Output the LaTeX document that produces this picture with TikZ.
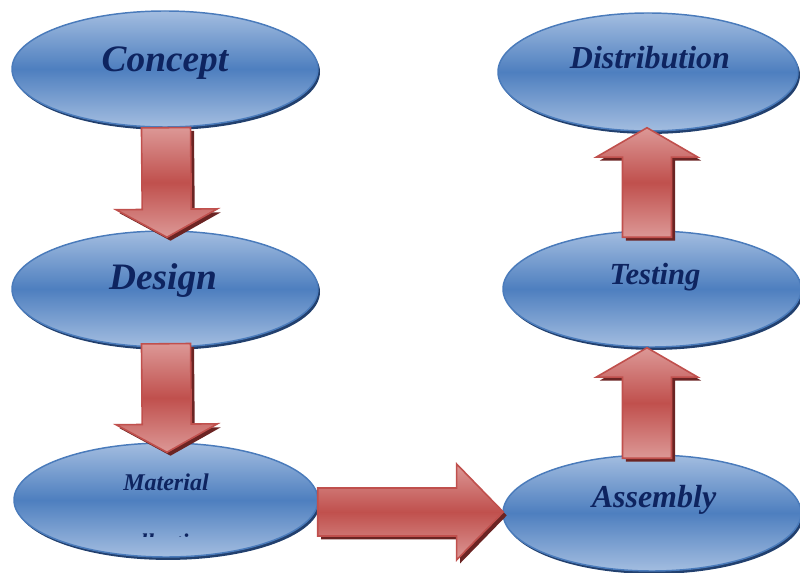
\documentclass[tikz,border=0pt]{standalone}
\usepackage{fontspec}
\setmainfont{Liberation Serif}
\usetikzlibrary{shapes.geometric,shadows,calc}

\definecolor{ellight}{HTML}{A3BDE0}
\definecolor{eldark}{HTML}{4E7FBF}
\definecolor{elborder}{HTML}{4A7BBB}
\definecolor{elshadow}{HTML}{22406E}
\definecolor{arlight}{HTML}{DC9896}
\definecolor{ardark}{HTML}{C0504D}
\definecolor{arshadow}{HTML}{6B2423}
\definecolor{titleblue}{HTML}{0E2460}

\tikzset{
  stage/.style={ellipse, inner sep=0pt, draw=elborder, line width=1.1pt,
    top color=ellight, bottom color=ellight, middle color=eldark,
    drop shadow={shadow xshift=1.5pt, shadow yshift=-2.2pt, fill=elshadow, opacity=1}},
  lbl/.style={anchor=base, inner sep=0pt, text=titleblue,
    font=\bfseries\itshape\fontsize{#1}{#1}\selectfont},
  arrowshadow/.style={fill=arshadow, transform canvas={shift={(2.6pt,-2.6pt)}}},
  arrowbody/.style={draw=ardark, line width=1.2pt, line join=miter,
    top color=arlight, bottom color=arlight, middle color=ardark}
}

% block arrow: from, tip, shaft half width, head half width, head length
\newcommand\flowarrow[5]{%
  \coordinate (fa-h) at ($(#2)!#5!(#1)$);
  \foreach \st in {arrowshadow,arrowbody}
    \path[\st] ($(#1)!#3!90:(#2)$) -- ($(fa-h)!#3!90:(#2)$) -- ($(fa-h)!#4!90:(#2)$)
      -- (#2) -- ($(fa-h)!#4!-90:(#2)$) -- ($(fa-h)!#3!-90:(#2)$)
      -- ($(#1)!#3!-90:(#2)$) -- cycle;
}

\begin{document}
\begin{tikzpicture}[x=0.75pt,y=-0.75pt]
  \useasboundingbox (0,0) rectangle (800,573);

  % the six stages
  \node[stage, minimum width=229.5pt, minimum height=87pt]   (concept)      at (165,69)  {};
  \node[stage, minimum width=229.5pt, minimum height=87pt]   (design)       at (165,289) {};
  \node[stage, minimum width=228pt,   minimum height=85.5pt] (material)     at (166,500) {};
  \node[stage, minimum width=225pt,   minimum height=88.5pt] (distribution) at (648,72)  {};
  \node[stage, minimum width=223.5pt, minimum height=87pt]   (testing)      at (652,289) {};
  \node[stage, minimum width=223.5pt, minimum height=87pt]   (assembly)     at (652,513) {};

  % their texts
  \node[lbl=28] (concept-t)      at (165,72)  {Concept};
  \node[lbl=28] (design-t)       at (163,290) {Design};
  \node[lbl=18] (material-t)     at (166,490) {Material};
  \begin{scope}
    \clip (0,0) rectangle (800,536);
    \node[lbl=18] (collection-t) at (166,551) {collection};
  \end{scope}
  \node[lbl=24] (distribution-t) at (650,69)  {Distribution};
  \node[lbl=23] (testing-t)      at (655,285) {Testing};
  \node[lbl=24] (assembly-t)     at (654,508) {Assembly};

  % block arrows
  \flowarrow{$(concept.south)+(1,0)$}{$(design.north)+(2,7)$}{18.4pt}{38pt}{21pt}
  \flowarrow{$(design.south)+(1,-4)$}{$(material.north)+(1,10)$}{18.4pt}{38pt}{21pt}
  \flowarrow{$(material.east)+(-1,12)$}{$(assembly.west)+(1,-1)$}{18pt}{36pt}{35pt}
  \flowarrow{$(assembly.north)+(-5,4)$}{$(testing.south)+(-5,0)$}{18.4pt}{38pt}{22pt}
  \flowarrow{$(testing.north)+(-5,7)$}{$(distribution.south)+(-1,-4)$}{18.4pt}{38pt}{22pt}
\end{tikzpicture}
\end{document}
